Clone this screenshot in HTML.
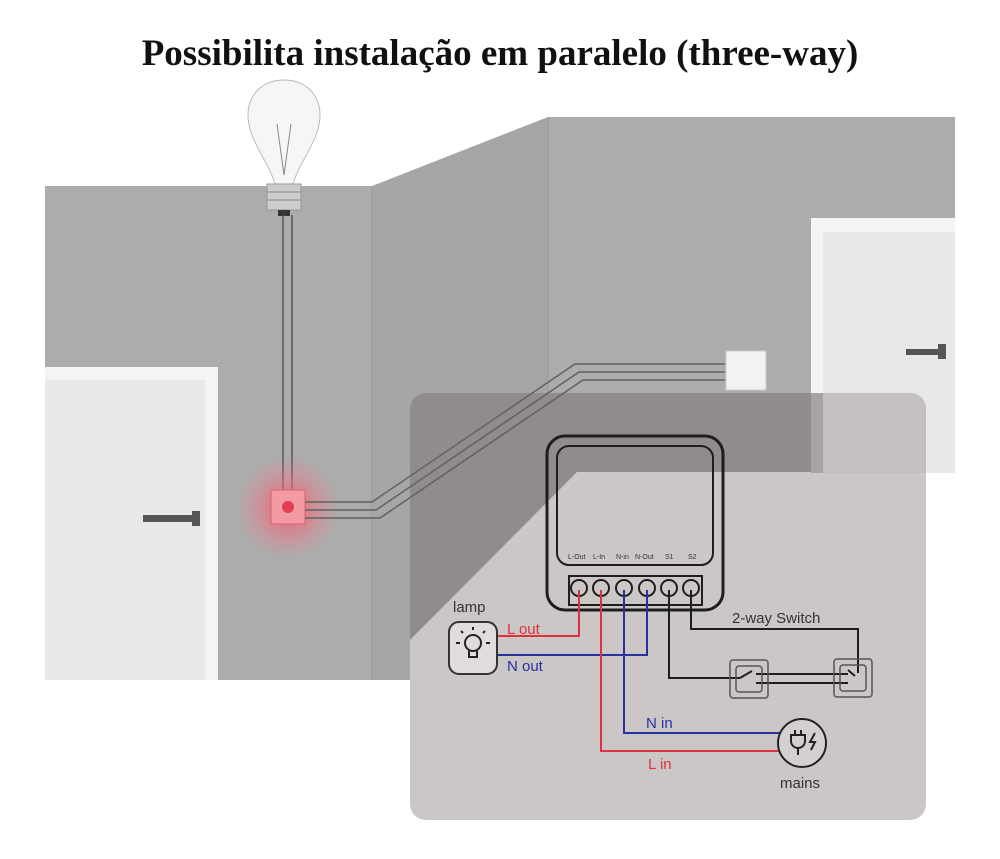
<!DOCTYPE html>
<html><head><style>
body{margin:0;width:1000px;height:859px;background:#fff;overflow:hidden;position:relative;font-family:"Liberation Sans",sans-serif}
h1{position:absolute;top:32px;left:0;width:1000px;text-align:center;margin:0;font-family:"Liberation Serif",serif;font-size:37px;font-weight:bold;color:#111}
</style></head><body>
<h1>Possibilita instalação em paralelo (three-way)</h1>
<svg width="1000" height="859" style="position:absolute;left:0;top:0">
<defs><radialGradient id="g"><stop offset="0" stop-color="#f05060" stop-opacity=".9"/><stop offset=".5" stop-color="#f07080" stop-opacity=".5"/><stop offset="1" stop-color="#f08090" stop-opacity="0"/></radialGradient></defs>
<!-- walls -->
<polygon points="45,186 372,186 372,680 45,680" fill="#acacac"/>
<polygon points="372,186 548,117 548,680 372,680" fill="#a6a6a6"/>
<rect x="548" y="117" width="407" height="356" fill="#acacac"/>
<line x1="372" y1="186" x2="372" y2="680" stroke="#9a9a9a"/>
<line x1="548" y1="117" x2="548" y2="680" stroke="#9a9a9a"/>
<!-- left door -->
<rect x="45" y="367" width="173" height="313" fill="#f4f4f4"/>
<rect x="45" y="380" width="160" height="300" fill="#e8e8e8"/>
<rect x="143" y="515" width="55" height="7" fill="#555"/><rect x="192" y="511" width="8" height="15" fill="#555"/>
<!-- right door -->
<rect x="811" y="218" width="144" height="255" fill="#f4f4f4"/>
<rect x="823" y="232" width="132" height="241" fill="#e8e8e8"/>
<rect x="906" y="349" width="38" height="6" fill="#555"/><rect x="938" y="344" width="8" height="15" fill="#555"/>
<!-- bulb -->
<path d="M275,184 C268,160 248,140 248,115 C248,95 262,80 284,80 C306,80 320,95 320,115 C320,140 300,160 293,184 Z" fill="#f6f6f6" stroke="#bbb"/>
<path d="M277,124 L284,175 L291,124" fill="none" stroke="#888"/>
<rect x="267" y="184" width="34" height="26" fill="#ccc" stroke="#999"/>
<line x1="267" y1="192" x2="301" y2="192" stroke="#888"/><line x1="267" y1="200" x2="301" y2="200" stroke="#888"/>
<rect x="278" y="210" width="12" height="6" fill="#333"/>
<g stroke="#555" stroke-width="1.5" fill="none">
<line x1="283" y1="215" x2="283" y2="490"/><line x1="292" y1="215" x2="292" y2="490"/>
</g>
<rect x="726" y="351" width="40" height="39" fill="#f2f2f2" stroke="#ccc"/>
<circle cx="288" cy="508" r="52" fill="url(#g)"/>
<rect x="271" y="490" width="34" height="34" fill="#f39aa4" stroke="#e06070"/>
<circle cx="288" cy="507" r="6" fill="#e04050"/>
<!-- panel -->
<defs><clipPath id="c"><rect x="410" y="393" width="516" height="427" rx="16"/></clipPath></defs>
<g clip-path="url(#c)">
<rect x="410" y="393" width="516" height="427" fill="#cbc7c6"/>
<polygon points="410,393 926,393 926,472 577,472 410,640" fill="#8f8c8b"/>
<rect x="811" y="393" width="12" height="80" fill="#a6a4a3"/>
<rect x="823" y="393" width="103" height="80" fill="#c4c0bf"/>
</g>
<g stroke="#626060" stroke-width="1.5" fill="none">
<polyline points="305,502 372,502 575,364 725,364"/>
<polyline points="305,510 376,510 579,372 725,372"/>
<polyline points="305,518 380,518 583,380 725,380"/>
</g>
<!-- device -->
<rect x="547" y="436" width="176" height="174" rx="18" fill="none" stroke="#1e1e1e" stroke-width="3"/>
<rect x="557" y="446" width="156" height="119" rx="12" fill="none" stroke="#1e1e1e" stroke-width="2"/>
<g font-size="7" fill="#333"><text x="568" y="559">L-Out</text><text x="593" y="559">L-In</text><text x="616" y="559">N-in</text><text x="635" y="559">N-Out</text><text x="665" y="559">S1</text><text x="688" y="559">S2</text></g>
<rect x="569" y="576" width="133" height="29" fill="none" stroke="#1e1e1e" stroke-width="2"/>
<g fill="none" stroke="#1e1e1e" stroke-width="2"><circle cx="579" cy="588" r="8"/><circle cx="601" cy="588" r="8"/><circle cx="624" cy="588" r="8"/><circle cx="647" cy="588" r="8"/><circle cx="669" cy="588" r="8"/><circle cx="691" cy="588" r="8"/></g>
<!-- wires -->
<g fill="none" stroke-width="2">
<polyline points="579,590 579,636 497,636" stroke="#e03040"/>
<polyline points="647,590 647,655 497,655" stroke="#2a30a0"/>
<polyline points="601,590 601,751 780,751" stroke="#e03040"/>
<polyline points="624,590 624,733 780,733" stroke="#2a30a0"/>
<polyline points="669,590 669,678 740,678" stroke="#1e1e1e"/>
<polyline points="691,590 691,629 858,629 858,673" stroke="#1e1e1e"/>
<line x1="756" y1="674" x2="848" y2="674" stroke="#1e1e1e"/>
<line x1="756" y1="683" x2="848" y2="683" stroke="#1e1e1e"/>
</g>
<g fill="none" stroke="#555" stroke-width="1.5">
<rect x="730" y="660" width="38" height="38" rx="3"/><rect x="736" y="666" width="26" height="26" rx="3"/>
<rect x="834" y="659" width="38" height="38" rx="3"/><rect x="840" y="665" width="26" height="26" rx="3"/>
</g>
<line x1="740" y1="678" x2="752" y2="671" stroke="#1e1e1e" stroke-width="2"/>
<line x1="848" y1="670" x2="855" y2="676" stroke="#1e1e1e" stroke-width="2"/>
<!-- lamp -->
<rect x="449" y="622" width="48" height="52" rx="10" fill="#e0dcdb" stroke="#333" stroke-width="2"/>
<g stroke="#222" stroke-width="2" fill="none"><circle cx="473" cy="643" r="8"/><path d="M469,651 v6 h8 v-6"/>
<line x1="473" y1="627" x2="473" y2="630"/><line x1="460" y1="643" x2="456" y2="643"/><line x1="486" y1="643" x2="490" y2="643"/><line x1="463" y1="633" x2="461" y2="631"/><line x1="483" y1="633" x2="485" y2="631"/></g>
<!-- mains -->
<circle cx="802" cy="743" r="24" fill="#d4d0cf" stroke="#222" stroke-width="2"/>
<g stroke="#222" stroke-width="2" fill="none"><path d="M791,735 h14 v6 a7,7 0 0 1 -14,0 z"/><line x1="795" y1="735" x2="795" y2="730"/><line x1="801" y1="735" x2="801" y2="730"/><line x1="798" y1="748" x2="798" y2="755"/><path d="M815,733 l-5,9 h5 l-4,8"/></g>
<g font-size="15" fill="#333">
<text x="453" y="612">lamp</text>
<text x="507" y="634" fill="#e03040">L out</text>
<text x="507" y="671" fill="#2a30a0">N out</text>
<text x="732" y="623">2-way Switch</text>
<text x="646" y="728" fill="#2a30a0">N in</text>
<text x="648" y="769" fill="#e03040">L in</text>
<text x="780" y="788">mains</text>
</g>
</svg>
</body></html>
